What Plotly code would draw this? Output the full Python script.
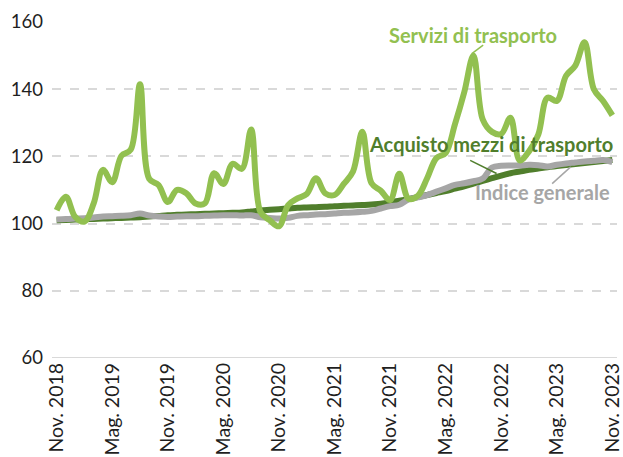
import plotly.graph_objects as go

MESI = ["Gen.", "Feb.", "Mar.", "Apr.", "Mag.", "Giu.", "Lug.", "Ago.", "Set.", "Ott.", "Nov.", "Dic."]
categories = []
m, y = 10, 2018
for _ in range(61):
    categories.append(f"{MESI[m]} {y}")
    m += 1
    if m == 12:
        m, y = 0, y + 1

tick_labels = ["Nov. 2018", "Mag. 2019", "Nov. 2019", "Mag. 2020", "Nov. 2020", "Mag. 2021",
               "Nov. 2021", "Mag. 2022", "Nov. 2022", "Mag. 2023", "Nov. 2023"]

servizi = [104.0, 108.0, 102.0, 100.6, 106.0, 116.0, 112.3, 120.2, 122.0, 141.5,
           113.3, 111.5, 106.4, 110.0, 109.0, 106.0, 106.0, 115.0, 111.8, 117.8,
           116.3, 128.0, 103.5, 101.0, 99.2, 105.5, 107.5, 108.8, 113.5, 109.0,
           108.5, 111.8, 115.5, 127.3, 112.0, 109.8, 107.0, 114.8, 107.4, 108.3,
           113.5, 119.5, 121.0, 129.5, 139.0, 150.0, 131.0, 127.3, 126.7, 131.5,
           118.8, 121.5, 126.5, 137.5, 136.5, 144.0, 147.0, 154.0, 140.0, 136.5,
           132.2]

acquisto = [101.0, 101.1, 101.2, 101.3, 101.4, 101.5, 101.6, 101.7, 101.8, 101.9,
            102.1, 102.3, 102.5, 102.6, 102.7, 102.8, 102.9, 103.0, 103.1, 103.2,
            103.3, 103.6, 103.9, 104.1, 104.3, 104.5, 104.7, 104.8, 104.9, 105.0,
            105.2, 105.3, 105.4, 105.5, 105.7, 105.9, 106.3, 106.8, 107.3, 107.9,
            108.5, 109.1, 109.7, 110.4, 111.1, 111.9, 112.7, 113.5, 114.3, 115.0,
            115.5, 116.0, 116.4, 116.8, 117.1, 117.4, 117.7, 118.0, 118.3, 118.6,
            118.9]

indice = [101.2, 101.4, 101.5, 101.6, 101.8, 102.1, 102.2, 102.3, 102.5, 103.0,
          102.4, 102.1, 102.0, 102.1, 102.2, 102.2, 102.3, 102.4, 102.5, 102.5,
          102.4, 102.5, 101.9, 101.7, 101.5, 101.7, 102.3, 102.5, 102.7, 102.8,
          103.0, 103.2, 103.3, 103.5, 103.8, 104.5, 105.2, 105.6, 107.2, 107.8,
          108.5, 109.5, 110.5, 111.5, 112.0, 112.6, 113.4, 116.7, 117.2, 117.3,
          117.3, 117.5, 117.4, 117.0, 117.5, 117.9, 118.2, 118.5, 118.7, 118.9,
          118.3]

C_SERV = "#92C050"
C_ACQ = "#507E2C"
C_IND = "#A6A6A6"
FONT = "Lato"

fig = go.Figure()
fig.add_trace(go.Scatter(x=categories, y=acquisto, mode="lines",
                         line=dict(color=C_ACQ, width=6, shape="spline", smoothing=1)))
fig.add_trace(go.Scatter(x=categories, y=indice, mode="lines",
                         line=dict(color=C_IND, width=6, shape="spline", smoothing=1)))
fig.add_trace(go.Scatter(x=categories, y=servizi, mode="lines",
                         line=dict(color=C_SERV, width=6, shape="spline", smoothing=1)))

ann = [
    ("Servizi di trasporto", 45.0, 156.0, C_SERV),
    ("Acquisto mezzi di trasporto", 46.9, 123.6, C_ACQ),
    ("Indice generale", 52.5, 109.3, C_IND),
]
for t, ax_, ay_, c in ann:
    fig.add_annotation(x=ax_, y=ay_, text=f"<b>{t}</b>", showarrow=False,
                       xref="x", yref="y", font=dict(family=FONT, size=20, color=c))

leaders = [
    (46.05, 153.1, 44.83, 150.6, C_SERV),
    (44.65, 118.8, 47.5, 114.9, C_ACQ),
    (53.5, 111.9, 55.5, 116.9, C_IND),
]
for x0, y0, x1, y1, c in leaders:
    fig.add_shape(type="line", x0=x0, y0=y0, x1=x1, y1=y1, xref="x", yref="y",
                  line=dict(color=c, width=1.5))

fig.update_layout(
    width=623, height=457,
    margin=dict(l=52, r=6, t=22, b=99),
    paper_bgcolor="white", plot_bgcolor="white",
    showlegend=False,
    font=dict(family=FONT, size=18, color="#1F1F1F"),
)
fig.update_xaxes(
    type="category", range=[-0.5, 60.5], automargin=False,
    tickmode="array", tickvals=tick_labels, ticktext=tick_labels,
    tickangle=-90, showgrid=False, zeroline=False,
    showline=False, ticks="", tickfont=dict(family=FONT, size=19.5, color="#1F1F1F"),
)
fig.update_yaxes(
    range=[60, 160], tick0=60, dtick=20, automargin=False,
    showgrid=True, gridcolor="#D9D9D9", griddash="dash", gridwidth=1.5,
    zeroline=False, showline=False, ticks="", ticklabelstandoff=8,
    tickfont=dict(family=FONT, size=18.5, color="#1F1F1F"),
)
fig.add_shape(type="line", xref="paper", yref="y", x0=0, x1=1, y0=60, y1=60,
              line=dict(color="#D9D9D9", width=2))

fig.write_html("out.html")
